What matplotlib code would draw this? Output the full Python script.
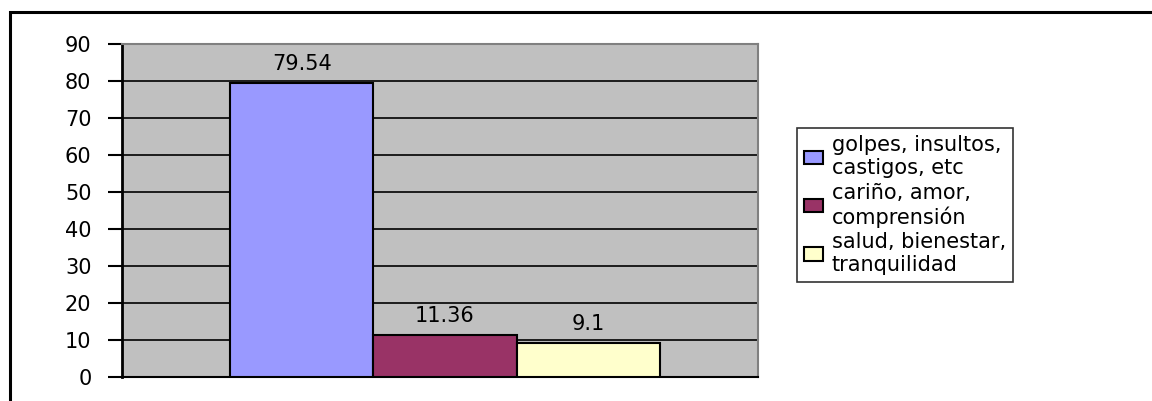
import matplotlib.pyplot as plt
from matplotlib.patches import Rectangle

plt.rcParams['font.family'] = ['DejaVu Sans']

labels = ["golpes, insultos,\ncastigos, etc",
          "cariño, amor,\ncomprensión",
          "salud, bienestar,\ntranquilidad"]
values = [79.54, 11.36, 9.1]
value_text = ["79.54", "11.36", "9.1"]
colors = ["#9999FF", "#993366", "#FFFFCC"]
yticks = [0, 10, 20, 30, 40, 50, 60, 70, 80, 90]


def main():
    fig = plt.figure(figsize=(11.52, 4.01), dpi=100)
    ax = fig.add_axes([0.1059, 0.0599, 0.552, 0.830])
    ax.set_facecolor("#C0C0C0")

    for i, (v, c, lab) in enumerate(zip(values, colors, labels)):
        ax.bar(i, v, width=1.0, color=c, edgecolor="black",
               linewidth=1.5, label=lab, zorder=3)
        ax.text(i, v + 2.5, value_text[i], ha="center", va="bottom",
                fontsize=15, zorder=4)

    ax.set_xlim(-1.255, 3.185)
    ax.set_ylim(0, 90)
    ax.set_yticks(yticks)
    ax.set_xticks([])
    ax.tick_params(axis="y", labelsize=15, length=10, width=1.5,
                   direction="out", pad=12)
    ax.grid(axis="y", color="black", linewidth=1.2, zorder=1)
    ax.set_axisbelow(True)

    for s in ["top", "right"]:
        ax.spines[s].set_color("#808080")
        ax.spines[s].set_linewidth(1.5)
    ax.spines["left"].set_linewidth(2)
    ax.spines["bottom"].set_linewidth(1.5)

    leg = fig.legend(loc="upper left", bbox_to_anchor=(0.692, 0.681),
                     borderaxespad=0, fontsize=15, frameon=True,
                     fancybox=False, edgecolor="black", handlelength=0.9,
                     handleheight=0.6, handletextpad=0.4, labelspacing=0.2,
                     borderpad=0.35)
    leg.get_frame().set_linewidth(1.2)

    # outer chart frame (cut off at right and bottom)
    fig.patches.append(Rectangle((10 / 1152, -0.1), 1.2, 1.1 - 12 / 401,
                                 transform=fig.transFigure, fill=False,
                                 edgecolor="black", linewidth=2.2))

    fig.savefig("out.png", dpi=100)


if __name__ == "__main__":
    main()
